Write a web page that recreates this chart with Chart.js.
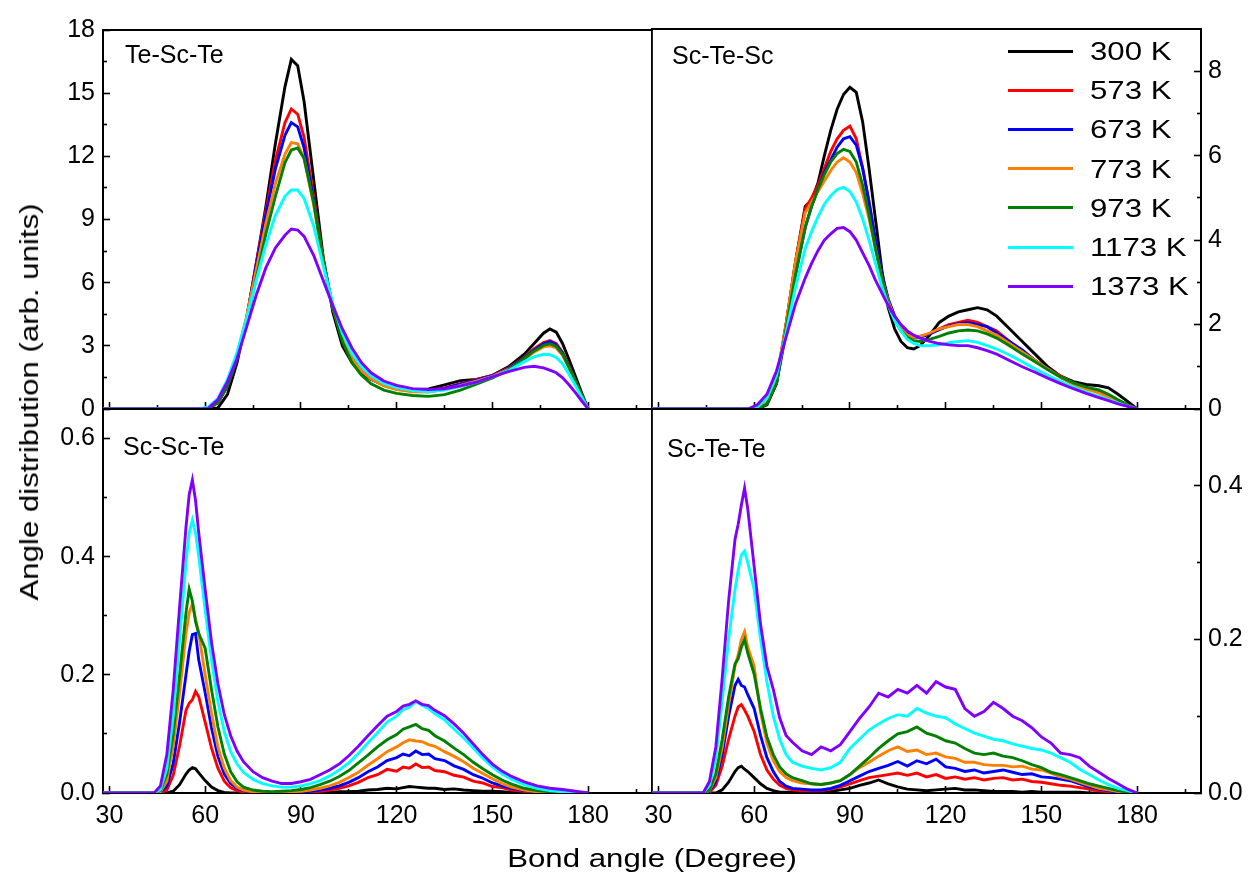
<!DOCTYPE html>
<html>
<head>
<meta charset="utf-8">
<title>Bond angle distribution</title>
<script src="https://cdn.jsdelivr.net/npm/chart.js@4.4.1/dist/chart.umd.min.js"></script>
<style>
html,body{margin:0;padding:0;background:#fff;}
#wrap{position:relative;width:1250px;height:874px;overflow:hidden;background:#fff;font-family:"Liberation Sans",Arial,sans-serif;color:#000;}
#wrap canvas{position:absolute;left:0;top:0;}
.txt{position:absolute;white-space:nowrap;line-height:1;}
</style>
</head>
<body>
<div id="wrap">
<canvas id="cA" width="1250" height="874"></canvas>
<canvas id="cB" width="1250" height="874"></canvas>
<canvas id="cC" width="1250" height="874"></canvas>
<canvas id="cD" width="1250" height="874"></canvas>
</div>
<script>
// ---------------- data ----------------
const temps = ['300 K','573 K','673 K','773 K','973 K','1173 K','1373 K'];
const lineColors = ['#000000','#ff0000','#0000ff','#ff8000','#008000','#00ffff','#8000ff'];
const panelNames = ['Te-Sc-Te','Sc-Te-Sc','Sc-Sc-Te','Sc-Te-Te'];
const xTitle = 'Bond angle (Degree)';
const yTitle = 'Angle distribution (arb. units)';

const xMajor = [30,60,90,120,150,180];
const xMinor = [45,75,105,135,165,195];
const yMajorA = [0,3,6,9,12,15,18];
const yMinorA = [1.5,4.5,7.5,10.5,13.5,16.5];
const yMajorB = [0,2,4,6,8];
const yMinorB = [1,3,5,7];
const yMajorC = [0,0.2,0.4,0.6];
const yMinorC = [0.1,0.3,0.5];
const yMajorD = [0,0.2,0.4];
const yMinorD = [0.1,0.3];

// Te-Sc-Te (top left)
const angleA = [28,58,61,64,67,70,73,76,79,82,85,87,89,91,94,97,100,103,106,109,112,116,120,125,130,135,140,145,150,155,160,163,166,168,170,172,174,176,178,180];
const TeScTe = [
  [0,0,0,0.05,0.7,2.2,4.3,6.9,9.6,12.6, 15.3,16.6,16.3,14.6,10.9,7.2,4.6,3.0,2.2,1.7, 1.4,1.15,1.0,0.92,0.95,1.15,1.35,1.4,1.6,2.0, 2.6,3.1,3.6,3.8,3.65,3.1,2.35,1.55,0.75,0],
  [0,0,0.05,0.3,1.1,2.4,4.3,6.9,9.4,11.8, 13.6,14.25,14.0,12.9,10.1,7.1,4.8,3.3,2.4,1.8, 1.45,1.15,0.98,0.88,0.88,1.0,1.2,1.38,1.6,1.95, 2.45,2.85,3.15,3.25,3.1,2.7,2.05,1.35,0.65,0],
  [0,0,0.05,0.3,1.1,2.4,4.3,6.8,9.2,11.4, 13.0,13.6,13.4,12.4,9.9,7.0,4.8,3.3,2.4,1.8, 1.42,1.12,0.95,0.85,0.85,0.98,1.18,1.36,1.58,1.92, 2.42,2.8,3.1,3.2,3.05,2.65,2.0,1.32,0.63,0],
  [0,0,0.05,0.35,1.2,2.6,4.4,6.6,8.8,10.7, 12.1,12.65,12.6,11.9,9.7,7.0,4.8,3.3,2.4,1.8, 1.42,1.1,0.92,0.82,0.8,0.92,1.12,1.32,1.55,1.88, 2.35,2.7,2.95,3.0,2.9,2.55,1.95,1.3,0.62,0],
  [0,0,0.04,0.3,1.1,2.4,4.1,6.2,8.3,10.1, 11.7,12.3,12.4,11.9,9.8,7.1,4.8,3.2,2.2,1.6, 1.2,0.9,0.74,0.64,0.6,0.68,0.9,1.18,1.48,1.85, 2.4,2.75,3.02,3.1,2.97,2.6,1.98,1.32,0.63,0],
  [0,0,0.1,0.5,1.4,2.7,4.3,6.1,7.8,9.2, 10.1,10.4,10.4,10.0,8.7,6.8,5.0,3.6,2.65,2.0, 1.58,1.22,1.02,0.88,0.82,0.9,1.08,1.28,1.52,1.82, 2.25,2.48,2.6,2.58,2.45,2.15,1.65,1.12,0.55,0],
  [0,0,0.03,0.45,1.3,2.4,3.9,5.4,6.7,7.65, 8.25,8.55,8.5,8.2,7.3,6.1,4.9,3.8,2.9,2.2, 1.72,1.33,1.12,0.97,0.92,0.96,1.1,1.28,1.52,1.78, 1.98,2.03,1.95,1.85,1.72,1.48,1.15,0.78,0.38,0]
];

// Sc-Te-Sc (top right)
const angleB = [28,58,61,64,67,70,73,76,78,80,82,84,86,88,90,92,94,96,98,100,102,104,106,108,110,112,115,118,121,124,127,130,133,136,140,144,148,152,156,160,164,168,171,174,177,180];
const ScTeSc = [
  [0,0,0,0.1,0.6,2.0,3.5, 4.8,4.95,5.35,6.0,6.6,7.1,7.45,7.62,7.5,6.8, 5.7,4.5,3.3,2.4,1.9,1.6,1.45,1.42,1.5, 1.75,2.05,2.2,2.3,2.35,2.4,2.35,2.2, 1.9,1.6,1.3,1.0,0.78,0.65,0.58,0.55, 0.5,0.35,0.18,0],
  [0,0,0,0.15,0.7,2.0,3.5, 4.75,5.0,5.3,5.7,6.1,6.4,6.6,6.7,6.4,5.7, 4.9,4.0,3.2,2.6,2.2,1.95,1.8,1.72,1.72, 1.78,1.9,2.0,2.05,2.1,2.05,1.95,1.85, 1.6,1.35,1.15,0.95,0.78,0.62,0.5,0.4, 0.3,0.2,0.1,0],
  [0,0,0,0.12,0.6,1.8,3.2, 4.3,4.8,5.2,5.6,5.9,6.2,6.4,6.45,6.25,5.7, 4.9,4.0,3.2,2.6,2.2,1.95,1.8,1.7,1.7, 1.78,1.88,1.97,2.02,2.05,2.0,1.95,1.8, 1.6,1.4,1.15,0.95,0.75,0.6,0.5,0.4, 0.3,0.2,0.1,0],
  [0,0,0,0.15,0.7,2.0,3.5, 4.65,4.9,5.15,5.4,5.65,5.85,5.95,5.85,5.6,5.1, 4.5,3.8,3.1,2.55,2.15,1.9,1.75,1.7,1.72, 1.8,1.9,1.95,2.0,2.0,1.95,1.85,1.75, 1.55,1.35,1.15,0.95,0.75,0.58,0.47,0.38, 0.28,0.18,0.09,0],
  [0,0,0,0.12,0.6,1.9,3.2, 4.3,4.8,5.2,5.55,5.85,6.05,6.15,6.1,5.85,5.3, 4.6,3.8,3.1,2.5,2.1,1.85,1.7,1.62,1.6, 1.65,1.72,1.8,1.85,1.87,1.85,1.78,1.68, 1.5,1.3,1.12,0.93,0.76,0.62,0.52,0.45, 0.35,0.22,0.1,0],
  [0,0,0.05,0.25,0.8,1.8,2.9, 3.8,4.2,4.55,4.85,5.05,5.2,5.25,5.15,4.9,4.5, 4.0,3.45,2.9,2.45,2.1,1.85,1.65,1.55,1.5, 1.5,1.52,1.57,1.6,1.62,1.58,1.5,1.42, 1.28,1.12,0.95,0.8,0.65,0.52,0.4,0.3, 0.22,0.14,0.07,0],
  [0,0,0.1,0.35,0.9,1.7,2.5, 3.1,3.45,3.75,4.0,4.15,4.28,4.3,4.2,4.0,3.7, 3.4,3.05,2.75,2.45,2.2,2.0,1.85,1.75,1.68, 1.6,1.55,1.52,1.5,1.5,1.45,1.38,1.3, 1.15,1.0,0.87,0.73,0.6,0.48,0.37,0.27, 0.2,0.12,0.06,0]
];

// Sc-Sc-Te (bottom left)
const angleC = [28,44,46,48,50,52,54,55,56,57,58,60,62,64,66,68,70,72,75,78,81,84,87,90,93,96,99,102,105,108,111,114,117,120,122,124,126,128,130,132,135,138,141,144,147,150,153,156,160,164,168,172,176,180];
const ScScTe = [
  [0,0,0,0,0.003,0.014,0.032,0.039,0.043,0.041,0.034, 0.021,0.01,0.004,0.001,0,0,0, 0,0,0,0,0,0,0,0.001,0.001,0.002,0.002,0.003,0.005,0.006,0.008,0.007, 0.009,0.011,0.01,0.009,0.008,0.008, 0.006,0.007,0.005,0.004,0.003,0.003,0.002,0.001, 0.001,0,0,0,0,0],
  [0,0,0,0.005,0.03,0.08,0.14,0.152,0.158,0.172,0.163, 0.12,0.076,0.042,0.02,0.009,0.004,0.002, 0.001,0.001,0,0,0.001,0.001,0.002,0.003,0.005,0.008,0.012,0.018,0.026,0.031,0.04,0.037, 0.044,0.042,0.049,0.043,0.044,0.038, 0.036,0.03,0.027,0.02,0.017,0.011,0.009,0.005, 0.003,0.001,0,0,0,0],
  [0,0,0.001,0.012,0.05,0.12,0.2,0.24,0.268,0.27,0.225, 0.17,0.11,0.062,0.032,0.016,0.008,0.004, 0.002,0.001,0.001,0.001,0.001,0.002,0.003,0.005,0.008,0.012,0.018,0.026,0.036,0.044,0.055,0.06, 0.066,0.063,0.071,0.065,0.066,0.058, 0.055,0.046,0.04,0.031,0.025,0.017,0.012,0.008, 0.004,0.002,0.001,0,0,0],
  [0,0,0.002,0.02,0.08,0.17,0.27,0.305,0.32,0.295,0.27, 0.2,0.135,0.078,0.042,0.021,0.01,0.005, 0.002,0.001,0.001,0.001,0.002,0.003,0.005,0.008,0.012,0.018,0.026,0.035,0.047,0.058,0.07,0.078, 0.085,0.09,0.088,0.087,0.082,0.079, 0.07,0.062,0.053,0.042,0.033,0.024,0.016,0.01, 0.005,0.002,0.001,0,0,0],
  [0,0,0.004,0.032,0.1,0.2,0.305,0.345,0.325,0.29,0.27, 0.245,0.175,0.112,0.066,0.036,0.019,0.01, 0.005,0.003,0.002,0.003,0.004,0.006,0.009,0.014,0.02,0.028,0.038,0.051,0.064,0.078,0.09,0.099, 0.108,0.112,0.116,0.109,0.106,0.097, 0.088,0.076,0.065,0.052,0.041,0.031,0.022,0.015, 0.008,0.004,0.002,0.001,0,0],
  [0,0,0.006,0.042,0.13,0.26,0.39,0.44,0.462,0.44,0.4, 0.31,0.225,0.155,0.104,0.07,0.049,0.035, 0.023,0.016,0.012,0.01,0.01,0.012,0.016,0.021,0.029,0.039,0.051,0.067,0.085,0.102,0.12,0.13, 0.141,0.145,0.155,0.148,0.143,0.134, 0.124,0.108,0.093,0.076,0.059,0.044,0.032,0.023, 0.014,0.008,0.004,0.002,0.001,0],
  [0,0,0.012,0.065,0.175,0.315,0.45,0.505,0.53,0.495,0.44, 0.345,0.255,0.185,0.133,0.097,0.071,0.053, 0.036,0.026,0.02,0.016,0.016,0.019,0.023,0.031,0.039,0.049,0.063,0.079,0.097,0.114,0.13,0.138, 0.147,0.15,0.156,0.15,0.148,0.14, 0.131,0.117,0.101,0.083,0.065,0.049,0.037,0.028, 0.019,0.012,0.008,0.006,0.003,0]
];

// Sc-Te-Te (bottom right)
const angleD = [28,44,46,48,50,52,54,55,56,57,58,60,62,64,66,68,70,72,75,78,81,84,87,90,93,96,99,102,105,108,111,114,117,120,123,126,129,132,135,138,141,144,147,150,153,156,159,162,165,168,171,174,177,180];
const ScTeTe = [
  [0,0,0,0,0.004,0.014,0.028,0.033,0.035,0.031,0.028, 0.02,0.012,0.006,0.003,0.001,0.001,0.001, 0.001,0,0.001,0.002,0.004,0.006,0.01,0.013,0.017,0.012,0.008,0.005,0.004,0.003,0.004,0.005, 0.006,0.004,0.004,0.003,0.002,0.002,0.002,0.001,0.002,0.001,0.001,0.001,0.001,0.001,0,0,0,0,0,0],
  [0,0,0.001,0.01,0.035,0.07,0.1,0.112,0.115,0.108,0.1, 0.08,0.05,0.03,0.018,0.01,0.006,0.004, 0.003,0.003,0.003,0.005,0.008,0.012,0.016,0.02,0.022,0.024,0.026,0.023,0.026,0.021,0.024,0.019, 0.021,0.018,0.02,0.017,0.019,0.02,0.017,0.018,0.015,0.014,0.012,0.01,0.009,0.007,0.005,0.003,0.002,0.001,0,0],
  [0,0,0.002,0.015,0.05,0.1,0.14,0.148,0.14,0.138,0.128, 0.11,0.075,0.046,0.028,0.015,0.009,0.006, 0.005,0.004,0.004,0.006,0.01,0.016,0.022,0.028,0.032,0.036,0.041,0.035,0.042,0.038,0.044,0.034, 0.032,0.028,0.03,0.026,0.028,0.03,0.027,0.024,0.025,0.021,0.02,0.018,0.016,0.012,0.008,0.005,0.003,0.001,0,0],
  [0,0,0.003,0.02,0.06,0.115,0.165,0.18,0.2,0.21,0.19, 0.165,0.105,0.065,0.042,0.028,0.02,0.016, 0.013,0.012,0.011,0.013,0.016,0.024,0.033,0.04,0.048,0.055,0.06,0.054,0.056,0.05,0.052,0.047, 0.045,0.04,0.04,0.037,0.036,0.036,0.034,0.035,0.031,0.03,0.026,0.021,0.018,0.014,0.01,0.006,0.004,0.002,0.001,0],
  [0,0,0.004,0.025,0.07,0.125,0.168,0.175,0.19,0.2,0.182, 0.155,0.11,0.073,0.05,0.034,0.025,0.02, 0.016,0.012,0.011,0.013,0.016,0.024,0.035,0.046,0.058,0.068,0.077,0.08,0.086,0.078,0.074,0.068, 0.065,0.058,0.052,0.05,0.052,0.048,0.046,0.042,0.037,0.033,0.027,0.024,0.02,0.016,0.012,0.009,0.006,0.003,0.001,0],
  [0,0,0.01,0.045,0.12,0.2,0.265,0.29,0.31,0.315,0.3, 0.265,0.2,0.145,0.1,0.07,0.05,0.04, 0.035,0.032,0.03,0.033,0.04,0.058,0.07,0.082,0.09,0.097,0.102,0.1,0.11,0.104,0.1,0.098, 0.09,0.084,0.078,0.074,0.07,0.068,0.064,0.061,0.058,0.056,0.052,0.046,0.04,0.031,0.024,0.017,0.011,0.006,0.003,0],
  [0,0,0.015,0.06,0.15,0.25,0.33,0.35,0.375,0.397,0.37, 0.295,0.22,0.165,0.135,0.098,0.075,0.066, 0.055,0.05,0.06,0.055,0.063,0.08,0.097,0.112,0.13,0.125,0.135,0.13,0.14,0.13,0.145,0.138, 0.135,0.11,0.1,0.106,0.118,0.11,0.1,0.094,0.085,0.073,0.065,0.052,0.05,0.046,0.035,0.027,0.019,0.012,0.005,0]
];

// ---------------- drawing ----------------
const X_MIN = 28, X_MAX = 200;
const FONT = '"Liberation Sans", Arial, sans-serif';
const tickFont = {family: FONT, size: 25};
Chart.defaults.color = '#000';

function makePanel(id, angles, series, o) {
  const yPos = o.right ? 'right' : 'left';
  const yOpp = o.right ? 'left' : 'right';
  const pad = o.right
    ? {left: o.L, right: 1250 - o.R - o.yW, top: o.T, bottom: 874 - o.B - o.xH}
    : {left: o.L - o.yW, right: 1250 - o.R, top: o.T, bottom: 874 - o.B - o.xH};
  const datasets = series.map((vals, i) => ({
    label: temps[i],
    data: angles.map((a, k) => ({x: a, y: vals[k]})),
    borderColor: lineColors[i],
    backgroundColor: lineColors[i],
    borderWidth: 2.9,
    pointRadius: 0, pointHoverRadius: 0,
    tension: 0, fill: false,
    order: series.length - 1 - i,
    xAxisID: 'x', yAxisID: 'y'
  }));
  const setTicks = list => s => { s.ticks = list.map(v => ({value: v})); };
  const gridMajor = {display: true, drawOnChartArea: false, drawTicks: true, tickLength: -7, tickWidth: 1.6, tickColor: '#000'};
  const gridMinor = {display: true, drawOnChartArea: false, drawTicks: true, tickLength: -4, tickWidth: 1.6, tickColor: '#000'};
  const gridNone = {display: true, drawOnChartArea: false, drawTicks: false};
  const border = w => ({display: true, color: '#000', width: w});
  new Chart(document.getElementById(id), {
    type: 'line',
    data: {datasets},
    options: {
      responsive: false, animation: false, devicePixelRatio: 1, events: [],
      layout: {padding: pad, autoPadding: false},
      plugins: {legend: {display: false}, tooltip: {enabled: false}, title: {display: false}},
      scales: {
        x: {type: 'linear', display: true, position: 'bottom', min: X_MIN, max: X_MAX, bounds: 'data', weight: 2,
            afterBuildTicks: setTicks(xMajor), afterFit: s => { s.height = o.xH; },
            ticks: {display: o.xLabels, autoSkip: false, maxRotation: 0, minRotation: 0, padding: 15, color: '#000', font: tickFont, callback: v => String(v)},
            grid: gridMajor, border: border(2)},
        xMinor: {type: 'linear', display: true, position: 'bottom', min: X_MIN, max: X_MAX, bounds: 'data', weight: 1,
            afterBuildTicks: setTicks(xMinor), afterFit: s => { s.height = 0; },
            ticks: {display: false}, grid: gridMinor, border: {display: false}},
        xTop: {type: 'linear', display: true, position: 'top', min: X_MIN, max: X_MAX, bounds: 'data',
            afterFit: s => { s.height = 0; }, ticks: {display: false}, grid: gridNone, border: border(2)},
        y: {type: 'linear', display: true, position: yPos, min: o.yMin, max: o.yMax, bounds: 'data', weight: 2,
            afterBuildTicks: setTicks(o.yMajor), afterFit: s => { s.width = o.yW; },
            ticks: {display: true, autoSkip: false, padding: o.right ? 14 : 15, color: '#000', font: tickFont, callback: o.fmt},
            grid: gridMajor, border: border(2)},
        yMinor: {type: 'linear', display: true, position: yPos, min: o.yMin, max: o.yMax, bounds: 'data', weight: 1,
            afterBuildTicks: setTicks(o.yMinor), afterFit: s => { s.width = 0; },
            ticks: {display: false}, grid: gridMinor, border: {display: false}},
        yOpp: {type: 'linear', display: true, position: yOpp, min: o.yMin, max: o.yMax, bounds: 'data',
            afterFit: s => { s.width = 0; }, ticks: {display: false}, grid: gridNone, border: border(1.6)}
      }
    }
  });
}

const intFmt = v => String(v);
const decFmt = v => v.toFixed(1);

makePanel('cA', angleA, TeScTe, {L: 103, R: 652, T: 28, B: 409, xH: 30, yW: 60, right: false, xLabels: false,
  yMin: 0, yMax: 18, yMajor: yMajorA, yMinor: yMinorA, fmt: intFmt});
makePanel('cB', angleB, ScTeSc, {L: 652, R: 1201, T: 28, B: 409, xH: 30, yW: 49, right: true, xLabels: false,
  yMin: 0, yMax: 9, yMajor: yMajorB, yMinor: yMinorB, fmt: intFmt});
makePanel('cC', angleC, ScScTe, {L: 103, R: 652, T: 409, B: 793, xH: 40, yW: 60, right: false, xLabels: true,
  yMin: 0, yMax: 0.65, yMajor: yMajorC, yMinor: yMinorC, fmt: decFmt});
makePanel('cD', angleD, ScTeTe, {L: 652, R: 1201, T: 409, B: 793, xH: 40, yW: 49, right: true, xLabels: true,
  yMin: 0, yMax: 0.5, yMajor: yMajorD, yMinor: yMinorD, fmt: decFmt});

// ---------------- text (HTML) ----------------
const wrap = document.getElementById('wrap');
function addText(str, x, cy, size, mode, stretch) {
  const d = document.createElement('div');
  d.className = 'txt';
  d.textContent = str;
  d.style.fontSize = size + 'px';
  d.style.height = size + 'px';
  d.style.left = x + 'px';
  d.style.top = (cy - size / 2) + 'px';
  const sx = 'scaleX(' + (stretch || 1) + ')';
  if (mode === 'center') {
    d.style.transformOrigin = '50% 50%';
    d.style.transform = 'translateX(-50%) ' + sx;
  } else if (mode === 'vertical') {
    d.style.top = cy + 'px';
    d.style.transformOrigin = '50% 50%';
    d.style.transform = 'translate(-50%,-50%) rotate(-90deg) ' + sx;
  } else {
    d.style.transformOrigin = '0 50%';
    d.style.transform = sx;
  }
  wrap.appendChild(d);
  return d;
}

// panel labels
addText(panelNames[0], 125, 54, 25, 'left', 1);
addText(panelNames[1], 672, 55, 25, 'left', 1);
addText(panelNames[2], 123, 446, 25, 'left', 1);
addText(panelNames[3], 667, 448, 25, 'left', 1);

// axis titles
addText(xTitle, 652, 858, 26, 'center', 1.2);
addText(yTitle, 29, 402, 26, 'vertical', 1.2);

// legend
temps.forEach((t, i) => {
  const cy = 51 + i * 39.2;
  const ln = document.createElement('div');
  ln.style.position = 'absolute';
  ln.style.left = '1008px';
  ln.style.top = (cy - 1.5) + 'px';
  ln.style.width = '65px';
  ln.style.height = '3px';
  ln.style.background = lineColors[i];
  wrap.appendChild(ln);
  addText(t, 1090, cy, 26, 'left', 1.2);
});
</script>
</body>
</html>
